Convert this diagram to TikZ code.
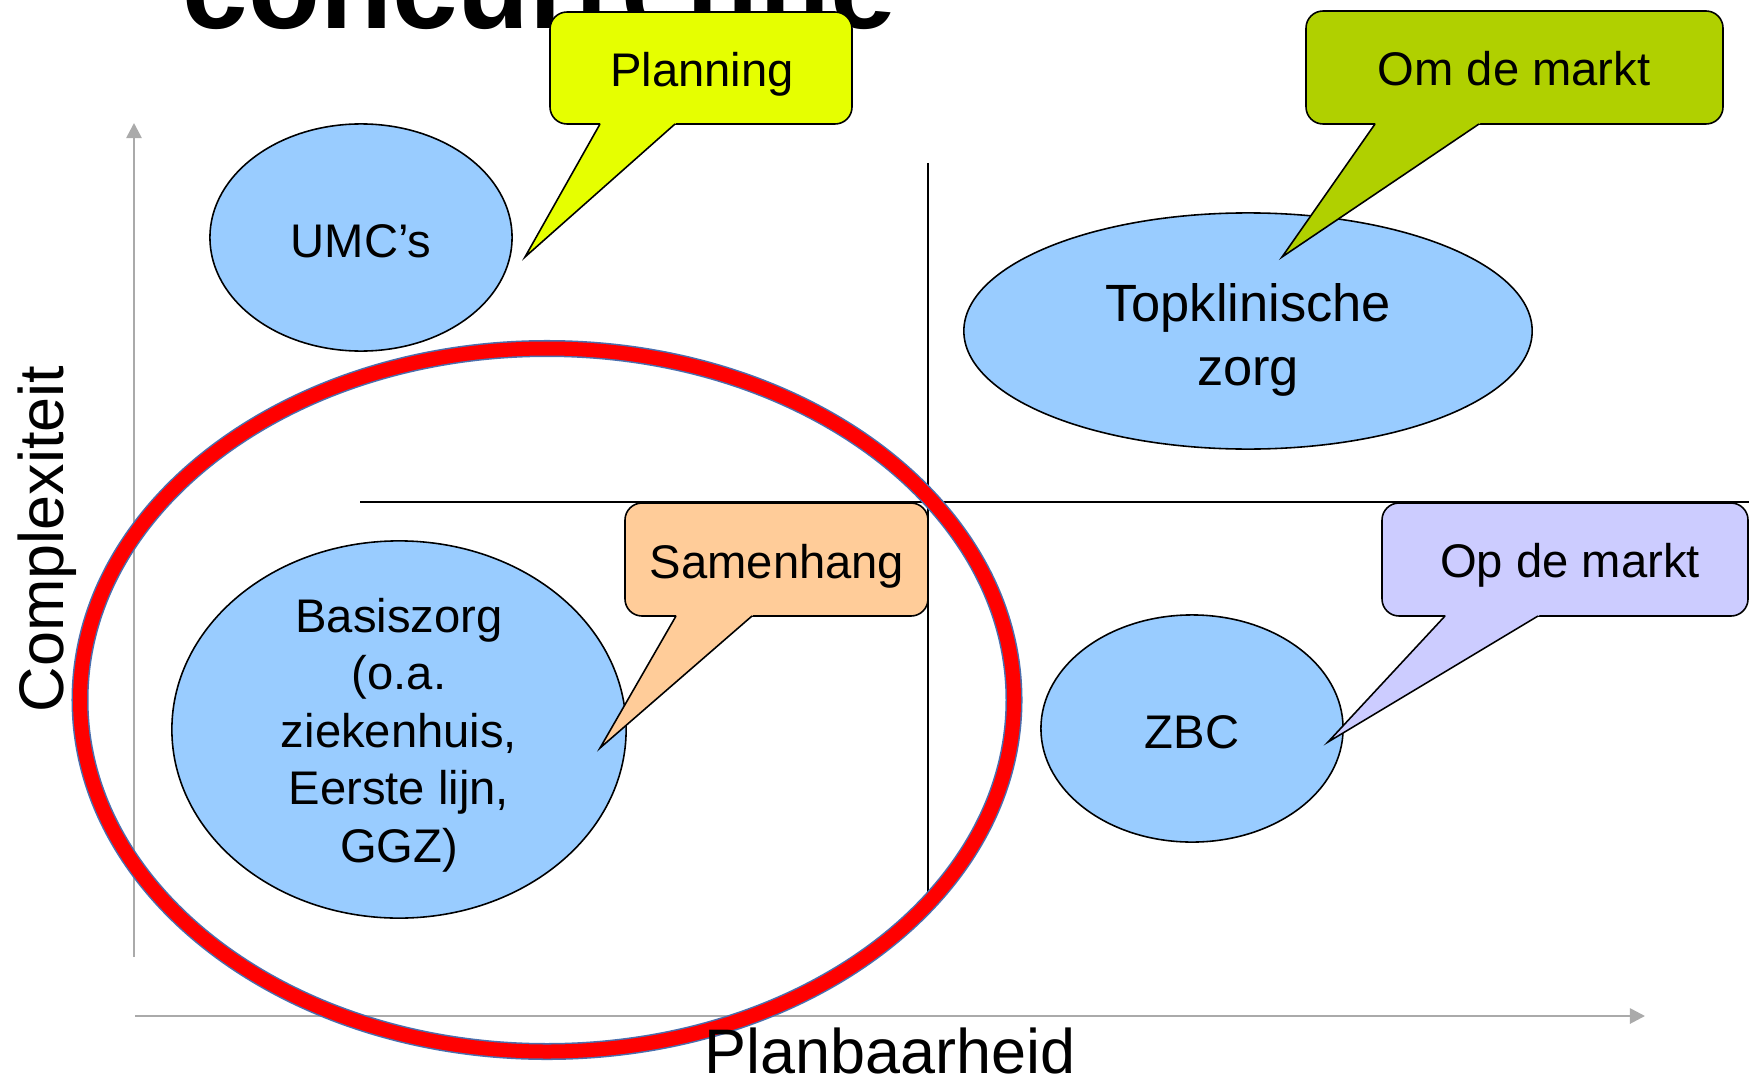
\documentclass[tikz,border=0pt]{standalone}
\usepackage{fontspec}
\setmainfont{Liberation Sans}
\usetikzlibrary{shapes.geometric,calc,arrows.meta}
\definecolor{blobc}{HTML}{99CCFF}
\definecolor{cYel}{HTML}{E6FF00}
\definecolor{cGrn}{HTML}{B0D000}
\definecolor{cOra}{HTML}{FFCC99}
\definecolor{cLil}{HTML}{CCCCFF}
\definecolor{axisc}{HTML}{AAAAAA}
\definecolor{ringblue}{HTML}{4A6FAE}
\begin{document}
\begin{tikzpicture}[x=0.01cm,y=-0.01cm,
  blob/.style={ellipse,draw=black,fill=blobc,line width=0.45pt,inner sep=0pt},
  lbl/.style={inner sep=0pt,align=center,font=\fontsize{13.42}{16.36}\selectfont},
  biglbl/.style={inner sep=0pt,align=center,font=\fontsize{14.91}{18.3}\selectfont},
  axlbl/.style={inner sep=0pt,font=\fontsize{17.9}{21}\selectfont},
  callbox/.style={draw=black,line width=0.45pt,rounded corners=1.7mm},
  tailedge/.style={draw=black,line width=0.45pt},
  axisline/.style={draw=axisc,line width=0.75pt,-{Triangle[length=4.3pt,width=4.3pt]}},
  divider/.style={draw=black,line width=0.45pt}]
\useasboundingbox (0,0) rectangle (1749,1079);
\clip (0,0) rectangle (1749,1079);

% title (cut off at the top)
\node[anchor=base west,inner sep=0pt,font=\fontsize{33.5}{40}\selectfont\bfseries] (title) at (182,29) {concurrentie};

% axes
\coordinate (ybot) at (134,957);
\coordinate (ytop) at (134,123);
\coordinate (xleft) at (135,1016);
\coordinate (xright) at (1645,1016);
\draw[axisline] (ybot) -- (ytop);
\draw[axisline] (xleft) -- (xright);

% quadrant dividers
\coordinate (hl) at (360,502);
\coordinate (hr) at (1749,502);
\coordinate (vt) at (928,163);
\coordinate (vb) at (928,892);
\draw[divider] (hl) -- (hr);
\draw[divider] (vt) -- (vb);

% ellipses
\node[blob,minimum width=3.02cm,minimum height=2.27cm] (umc) at (361,237.5) {};
\node[blob,minimum width=5.68cm,minimum height=2.36cm] (top) at (1248,331) {};
\node[blob,minimum width=4.54cm,minimum height=3.77cm] (basis) at (399,729.5) {};
\node[blob,minimum width=3.02cm,minimum height=2.27cm] (zbc) at (1192,728.5) {};

\node[lbl,anchor=base] (umct) at (361,257) {UMC’s};
\node[biglbl] (topt) at (1248,340) {Topklinische\\zorg};
\node[lbl] (basist) at (399,735) {Basiszorg\\(o.a.\\ziekenhuis,\\Eerste lijn,\\GGZ)};
\node[lbl,anchor=base] (zbct) at (1192,748) {ZBC};

% callout: Planning
\coordinate (pA) at (600,124); \coordinate (pB) at (675,124); \coordinate (pT) at (525,257);
\path[callbox,fill=cYel] (550,12) rectangle (852,124);
\fill[cYel] ($(pA)!-0.05!(pT)$) -- (pT) -- ($(pB)!-0.05!(pT)$) -- cycle;
\draw[tailedge] (pA) -- (pT) -- (pB);
\node[lbl,anchor=base] (planning) at (702,87) {Planning};

% callout: Om de markt
\coordinate (oA) at (1375,124); \coordinate (oB) at (1479,124); \coordinate (oT) at (1282,257);
\path[callbox,fill=cGrn] (1306,11) rectangle (1723,124);
\fill[cGrn] ($(oA)!-0.05!(oT)$) -- (oT) -- ($(oB)!-0.05!(oT)$) -- cycle;
\draw[tailedge] (oA) -- (oT) -- (oB);
\node[lbl,anchor=base] (omdemarkt) at (1514,86) {Om de markt};

% callout: Samenhang
\coordinate (sA) at (676,616); \coordinate (sB) at (752,616); \coordinate (sT) at (600,748);
\path[callbox,fill=cOra] (625,503) rectangle (928,616);
\fill[cOra] ($(sA)!-0.05!(sT)$) -- (sT) -- ($(sB)!-0.05!(sT)$) -- cycle;
\draw[tailedge] (sA) -- (sT) -- (sB);
\node[lbl,anchor=base] (samenhang) at (777,578) {Samenhang};

% callout: Op de markt
\coordinate (qA) at (1445,616); \coordinate (qB) at (1538,616); \coordinate (qT) at (1328,742);
\path[callbox,fill=cLil] (1382,503) rectangle (1748,616);
\fill[cLil] ($(qA)!-0.05!(qT)$) -- (qT) -- ($(qB)!-0.05!(qT)$) -- cycle;
\draw[tailedge] (qA) -- (qT) -- (qB);
\node[lbl,anchor=base] (opdemarkt) at (1570,577) {Op de markt};

% red highlight ring
\draw[draw=ringblue,line width=0.43pt,double=red,double distance=3.98pt] (547,700) ellipse [x radius=467,y radius=351.5];

% axis labels
\node[axlbl,anchor=base,rotate=90] (ylab) at (64,539) {Complexiteit};
\node[axlbl,anchor=base] (xlab) at (890,1073) {Planbaarheid};
\end{tikzpicture}
\end{document}
